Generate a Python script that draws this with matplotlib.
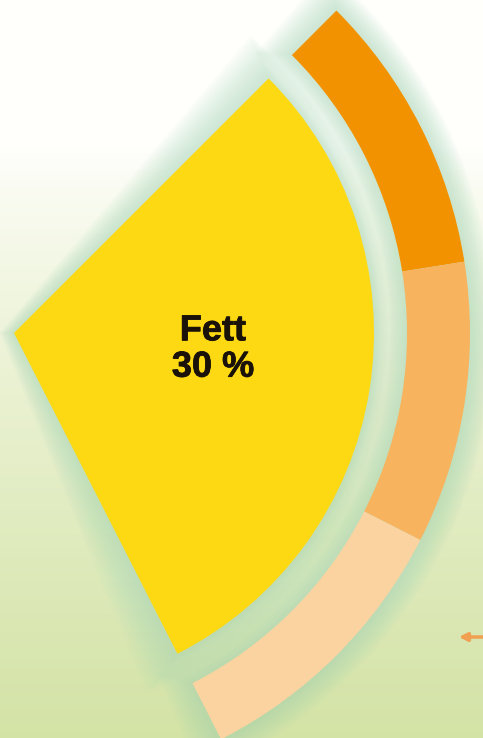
import numpy as np
import matplotlib
matplotlib.use('Agg')
import matplotlib.pyplot as plt
from matplotlib.patches import Wedge
import matplotlib.patheffects as pe

# main slice: fat share of the daily energy, rest of the pie is hidden
main_labels = ['Fett', 'rest']
main_values = [30, 70]
# fat split into three sub groups on the outer ring
sub_values = [10, 10, 10, 70]
sub_colors = ['#F39200', '#F7B35E', '#FAD3A0', 'none']

W, H = 483, 738
cx, cy = 14, H - 333      # pie centre in pixel coords (y up)
r_in = 360
r_out, ring_w = 456, 63

fig = plt.figure(figsize=(W / 100, H / 100), dpi=100)
ax = fig.add_axes([0, 0, 1, 1])

# background: white at the top fading into pale green
grad = np.linspace(0, 1, 256)[:, None]
top = np.array([1.0, 1.0, 0.99])
bot = np.array([0.83, 0.89, 0.65])
t = np.clip((grad - 0.2) / 0.8, 0, 1) ** 0.8
img = top * (1 - t[..., None]) + bot * t[..., None]
img = np.repeat(img, 2, axis=1)
ax.imshow(img, extent=[0, W, 0, H], origin='upper', aspect='auto', zorder=0)

# soft glow around the shapes
theta2 = 45
theta1 = theta2 - 360 * main_values[0] / sum(main_values)
glow = '#a8d8b8'
for k in range(12, 0, -1):
    a = 0.06
    ax.add_patch(Wedge((cx, cy), r_out + k * 2.0, theta1 - k * 0.35, theta2 + k * 0.35,
                       width=ring_w + k * 4.0, color=glow, alpha=a, lw=0, zorder=1))
    ax.add_patch(Wedge((cx - k * 1.2, cy), r_in + k * 2.4, theta1 - k * 0.4, theta2 + k * 0.4,
                       color=glow, alpha=a, lw=0, zorder=1))

# outer ring
ax.pie(sub_values, radius=r_out, center=(cx, cy), startangle=45,
       counterclock=False, colors=sub_colors,
       wedgeprops=dict(width=ring_w, linewidth=0, zorder=2), frame=True)

# main slice
ax.pie(main_values, radius=r_in, center=(cx, cy), startangle=45,
       counterclock=False, colors=['#FDD913', 'none'],
       wedgeprops=dict(linewidth=0, zorder=2), frame=True)

ax.set_xlim(0, W)
ax.set_ylim(0, H)
ax.set_aspect('equal')
ax.axis('off')

ax.text(213, H - 349, f'{main_labels[0]}\n{main_values[0]} %', ha='center',
        va='center', fontsize=26, fontweight='bold', family='Liberation Sans',
        color='#1a1208', linespacing=1.05, zorder=10,
        path_effects=[pe.withStroke(linewidth=0.6, foreground='#1a1208')])

# small pointer arrow at the right edge
ax.annotate('', xy=(456, H - 637), xytext=(490, H - 637),
            arrowprops=dict(arrowstyle='-|>', color='#F0A050', lw=2.5,
                            mutation_scale=12), annotation_clip=False, zorder=10)

fig.savefig('out.png', dpi=100)
